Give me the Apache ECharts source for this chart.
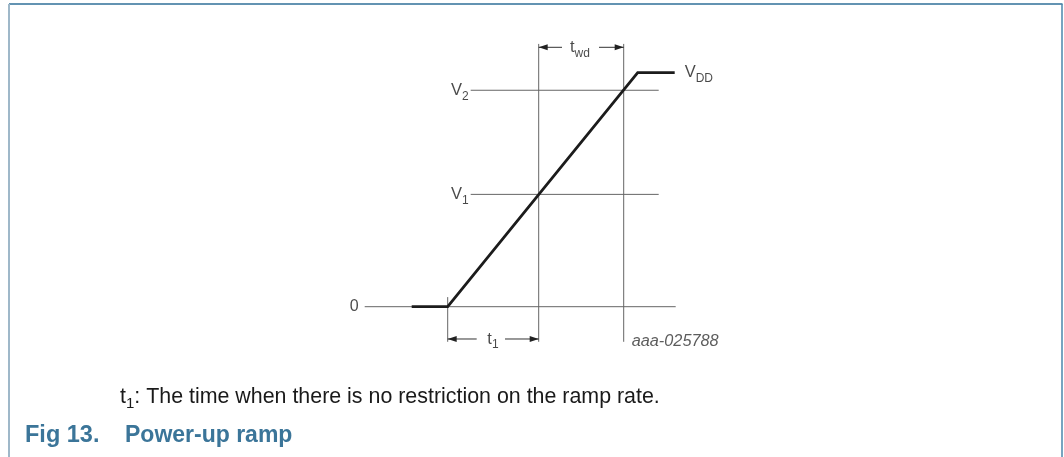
<!DOCTYPE html>
<html>
<head>
<meta charset="utf-8">
<script src="https://cdn.jsdelivr.net/npm/echarts@6/dist/echarts.min.js"></script>
<style>
html,body{margin:0;padding:0;background:#fff;}
#chart{width:1064px;height:457px;}
</style>
</head>
<body>
<div id="chart"></div>
<script>
// ---- data (time in arbitrary units, voltage normalised to VDD = 1) ----
const rampT = [-3.6, 0, 19.0, 22.7];
const rampV = [0, 0, 1, 1];
const levelNames = ['0', 'V1', 'V2'];
const levelV = [0, 0.48, 0.925];
const levelStart = [-8.3, 2.3, 2.3];
const levelEnd = [22.8, 21.1, 21.1];
const markerT = [0, 9.1, 17.6];        // ramp start, t1 end, t1 + twd
const markerTop = [0.041, 1.123, 1.123];
const markerBottom = [-0.15, -0.15, -0.15];
const twdArrowV = 1.1085;
const twdArrowInner = [11.43, 15.13];
const twdLabelT = 13.23;
const t1ArrowV = -0.138;
const t1ArrowInner = [2.9, 5.73];
const t1LabelT = 4.53;
const vddLabel = 'VDD';
const figId = 'aaa-025788';
const figIdPos = [18.4, -0.147];
const noteText = ': The time when there is no restriction on the ramp rate.';
const figNumber = 'Fig 13.';
const figTitle = 'Power-up ramp';

const FONT = "'Liberation Sans', Arial, sans-serif";
const TXT = '#1a1a1a';
const THIN = '#666';

const subRich = {
  m: {fontSize: 16.5, lineHeight: 24, color: TXT, fontFamily: FONT, fontWeight: 'normal'},
  s: {fontSize: 12, lineHeight: 12, verticalAlign: 'bottom', color: TXT, fontFamily: FONT, fontWeight: 'normal'}
};
function subLabel(main, sub) { return '{m|' + main + '}' + (sub ? '{s|' + sub + '}' : ''); }

const series = [];

// reference level lines
levelV.forEach((v, i) => {
  series.push({
    type: 'line', silent: true, symbol: 'none',
    lineStyle: {color: THIN, width: 1},
    data: [[levelStart[i], v], [levelEnd[i], v]]
  });
});
// vertical markers
markerT.forEach((t, i) => {
  series.push({
    type: 'line', silent: true, symbol: 'none',
    lineStyle: {color: THIN, width: 1},
    data: [[t, markerBottom[i]], [t, markerTop[i]]]
  });
});
// ramp
series.push({
  type: 'line', silent: true, symbol: 'none',
  lineStyle: {color: '#1c1c1c', width: 2.8, join: 'miter'},
  data: rampT.map((t, i) => [t, rampV[i]])
});

// arrows
function arrow(fromT, toT, v) {
  const left = toT < fromT;
  return {
    type: 'line', silent: true, showSymbol: true, symbolKeepAspect: false,
    lineStyle: {color: '#333', width: 1},
    itemStyle: {color: '#222'},
    data: [
      {value: [fromT, v], symbol: 'none'},
      {value: [toT, v], symbol: 'triangle', symbolSize: [6, 9],
       symbolRotate: left ? 90 : -90, symbolOffset: [left ? 4.5 : -4.5, 0]}
    ]
  };
}
series.push(arrow(twdArrowInner[0], markerT[1], twdArrowV));
series.push(arrow(twdArrowInner[1], markerT[2], twdArrowV));
series.push(arrow(t1ArrowInner[0], markerT[0], t1ArrowV));
series.push(arrow(t1ArrowInner[1], markerT[1], t1ArrowV));

// text labels anchored to data points
function textSeries(points) {
  return {
    type: 'scatter', silent: true, symbolSize: 0,
    data: points.map(p => ({
      value: p.at,
      label: Object.assign({show: true, color: TXT, fontFamily: FONT, rich: subRich}, p.label)
    }))
  };
}
series.push(textSeries([
  {at: [levelStart[0], levelV[0]], label: {position: 'left', distance: 6, formatter: levelNames[0], fontSize: 16}},
  {at: [levelStart[1], levelV[1]], label: {position: 'left', distance: 2, formatter: subLabel('V', levelNames[1].slice(1))}},
  {at: [levelStart[2], levelV[2]], label: {position: 'left', distance: 2, formatter: subLabel('V', levelNames[2].slice(1))}},
  {at: [rampT[3], rampV[3]], label: {position: 'right', distance: 10, formatter: subLabel('V', vddLabel.slice(1))}},
  {at: [twdLabelT, twdArrowV], label: {position: 'inside', formatter: subLabel('t', 'wd')}},
  {at: [t1LabelT, t1ArrowV], label: {position: 'inside', formatter: subLabel('t', '1')}},
  {at: figIdPos, label: {position: 'right', distance: 0, formatter: figId, fontSize: 16.3, fontStyle: 'italic', color: '#333'}}
]));

const chart = echarts.init(document.getElementById('chart'), null, {renderer: 'canvas'});
chart.setOption({
  animation: false,
  backgroundColor: '#fff',
  grid: {left: 347.7, right: 316.3, top: 2.5, bottom: 80.1, containLabel: false},
  xAxis: {type: 'value', min: -10, max: 30, show: false},
  yAxis: {type: 'value', min: -0.3, max: 1.3, show: false},
  title: [
    {text: figNumber, left: 25, top: 424, padding: 0,
     textStyle: {fontSize: 23.5, fontWeight: 'bold', color: '#3b7599', fontFamily: FONT}},
    {text: figTitle, left: 125, top: 424, padding: 0,
     textStyle: {fontSize: 23, fontWeight: 'bold', color: '#3b7599', fontFamily: FONT}},
    {text: '{m|t}{s|1}{m|' + noteText + '}', left: 120, top: 383, padding: 0,
     textStyle: {fontWeight: 'normal', rich: {
       m: {fontSize: 21.4, lineHeight: 28, color: TXT, fontFamily: FONT, fontWeight: 'normal'},
       s: {fontSize: 15, lineHeight: 15, verticalAlign: 'bottom', color: TXT, fontFamily: FONT, fontWeight: 'normal'}
     }}}
  ],
  graphic: [
    {type: 'line', silent: true, shape: {x1: 9, y1: 4, x2: 1062.5, y2: 4}, style: {stroke: '#2f6f99', lineWidth: 1.5}},
    {type: 'line', silent: true, shape: {x1: 9, y1: 4, x2: 9, y2: 457}, style: {stroke: '#9fb8c9', lineWidth: 2}},
    {type: 'line', silent: true, shape: {x1: 1062, y1: 4, x2: 1062, y2: 457}, style: {stroke: '#4a86ab', lineWidth: 1.5}}
  ],
  series: series
});
</script>
</body>
</html>
